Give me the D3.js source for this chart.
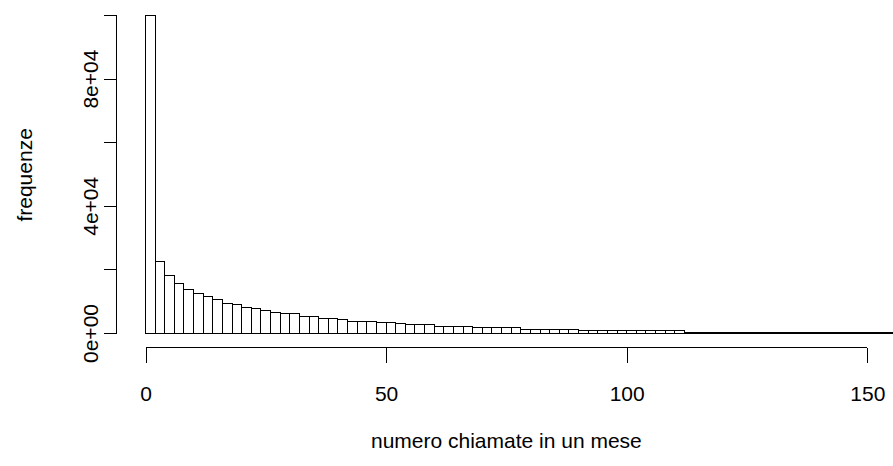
<!DOCTYPE html>
<html>
<head>
<meta charset="utf-8">
<script src="https://cdn.jsdelivr.net/npm/d3@7"></script>
<style>
  html, body { margin: 0; padding: 0; background: #ffffff; }
  svg { display: block; }
  text { font-family: "Liberation Sans", Arial, Helvetica, sans-serif; fill: #000; }
  .crisp rect, .crisp path, .crisp line { shape-rendering: crispEdges; }
</style>
</head>
<body>
<script>
// ---- data (histogram, bins of width 2 starting at 0) ----
const binWidth = 2;
const binStarts = d3.range(0, 160, 2); // left edges 0,2,...,158
const counts = [
  99800, 22400, 18000, 15600, 13600, 12300, 11400, 10400, 9400, 9000,
  8100, 7600, 7000, 6500, 6100, 6050, 5250, 5200, 4650, 4600,
  4200, 3700, 3650, 3600, 3150, 3150, 3100, 2750, 2700, 2700,
  2200, 2200, 2150, 2150, 1750, 1750, 1700, 1700, 1700, 1050,
  1050, 1050, 1000, 1000, 1000, 700, 700, 680, 680, 660,
  660, 650, 650, 640, 640, 630, 300, 300, 290, 290,
  290, 280, 280, 280, 270, 270, 260, 260, 250, 250,
  240, 240, 230, 230, 220, 220, 210, 210, 200, 200
];
const xTicks = [0, 50, 100, 150];
const yTicks = [0, 20000, 40000, 60000, 80000, 100000];
const yTickLabels = ["0e+00", "", "4e+04", "", "8e+04", ""];
const xLabel = "numero chiamate in un mese";
const yLabel = "frequenze";

// ---- layout ----
const W = 893, H = 466;
const svg = d3.select("body").append("svg").attr("width", W).attr("height", H);

const x = d3.scaleLinear().domain([0, 150]).range([145.5, 867.3]);
const y = d3.scaleLinear().domain([0, 100000]).range([333, 15]);
const plotLeft = x(-6), plotRight = x(156);
const plotTop = y(104000), plotBottom = 347.5;

svg.append("defs").append("clipPath").attr("id", "plotclip")
  .append("rect")
  .attr("x", plotLeft).attr("y", plotTop)
  .attr("width", plotRight - plotLeft).attr("height", plotBottom - plotTop);

// bars
svg.append("g").attr("class", "crisp").attr("clip-path", "url(#plotclip)")
  .selectAll("rect").data(binStarts.map((s, i) => ({ s, c: counts[i] })))
  .join("rect")
  .attr("x", d => x(d.s))
  .attr("y", d => y(d.c))
  .attr("width", d => x(d.s + binWidth) - x(d.s))
  .attr("height", d => y(0) - y(d.c))
  .attr("fill", "#ffffff")
  .attr("stroke", "#000000")
  .attr("stroke-width", 1);

// x axis (R style)
const xAxis = d3.axisBottom(x).tickValues(xTicks).tickSize(15).tickPadding(22)
  .tickFormat(d3.format("d"));
const gx = svg.append("g").attr("class", "crisp")
  .attr("transform", `translate(0,${plotBottom})`).call(xAxis);
gx.select(".domain").attr("d", `M${x(0)},0H${x(150)}`).attr("stroke", "#000");
gx.selectAll(".tick line").attr("stroke", "#000");
gx.selectAll(".tick text").attr("font-size", 21).attr("font-family", null).attr("dy", null)
  .attr("y", 53.5).attr("fill", "#000");

// y axis
const yAxis = d3.axisLeft(y).tickValues(yTicks).tickSize(13)
  .tickFormat((d, i) => yTickLabels[i]);
const yAxisX = 116.5;
const gy = svg.append("g").attr("class", "crisp")
  .attr("transform", `translate(${yAxisX},0)`).call(yAxis);
gy.select(".domain").attr("d", `M0,${y(0)}V${y(100000)}`).attr("stroke", "#000");
gy.selectAll(".tick line").attr("stroke", "#000");
gy.selectAll(".tick text")
  .attr("font-size", 21).attr("font-family", null)
  .attr("x", null).attr("dy", null)
  .attr("text-anchor", "middle")
  .attr("transform", "translate(-19,0) rotate(-90)")
  .attr("y", 0).attr("fill", "#000");

// axis titles
svg.append("text")
  .attr("x", (plotLeft + plotRight) / 2).attr("y", 448)
  .attr("text-anchor", "middle").attr("font-size", 21)
  .text(xLabel);
svg.append("text")
  .attr("transform", `translate(32,${(plotTop + plotBottom) / 2}) rotate(-90)`)
  .attr("text-anchor", "middle").attr("font-size", 21)
  .text(yLabel);
</script>
</body>
</html>
